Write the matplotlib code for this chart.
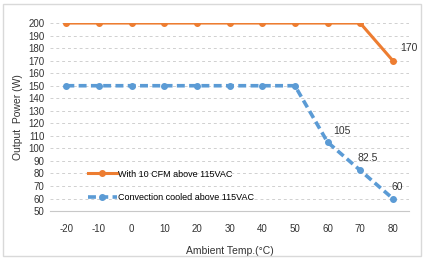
import matplotlib
matplotlib.use('Agg')
import matplotlib.pyplot as plt
from matplotlib.patches import Rectangle

temps = [-20, -10, 0, 10, 20, 30, 40, 50, 60, 70, 80]
fan_cooled = [200, 200, 200, 200, 200, 200, 200, 200, 200, 200, 170]
convection = [150, 150, 150, 150, 150, 150, 150, 150, 105, 82.5, 60]
yticks = list(range(50, 201, 10))

plt.rcParams['font.family'] = ['Liberation Sans Narrow', 'Liberation Sans', 'DejaVu Sans']
plt.rcParams['axes.unicode_minus'] = False

fig = plt.figure(figsize=(4.24, 2.59), dpi=100)
ax = fig.add_axes([0.118, 0.185, 0.847, 0.726])

orange = '#ED7D31'
blue = '#5B9BD5'

ax.plot(temps, fan_cooled, color=orange, lw=2.2, marker='o', ms=4,
        label='With 10 CFM above 115VAC')
ax.plot(temps, convection, color=blue, lw=2.6, ls=(0, (2.2, 1.2)), marker='o', ms=4,
        label='Convection cooled above 115VAC')

ax.annotate('170', (temps[-1], fan_cooled[-1]), xytext=(5, 7), textcoords='offset points',
            fontsize=7.5, color='#333333')
ax.annotate('105', (temps[8], convection[8]), xytext=(4, 6), textcoords='offset points',
            fontsize=7.5, color='#333333')
ax.annotate('82.5', (temps[9], convection[9]), xytext=(-2, 7), textcoords='offset points',
            fontsize=7.5, color='#333333')
ax.annotate('60', (temps[10], convection[10]), xytext=(-1, 6), textcoords='offset points',
            fontsize=7.5, color='#333333')

ax.set_xlim(-25, 85)
ax.set_ylim(50, 200)
ax.set_xticks(temps)
ax.set_yticks(yticks)
ax.tick_params(length=0, labelsize=7, colors='#333333', pad=4)
ax.tick_params(axis='x', pad=9)
ax.grid(axis='y', color='#d0d0d0', ls=(0, (3, 3)), lw=0.7)
ax.set_axisbelow(True)
for s in ['top', 'right', 'left']:
    ax.spines[s].set_visible(False)
ax.spines['bottom'].set_color('#c8c8c8')

ax.set_xlabel('Ambient Temp.(°C)', fontsize=7.5, color='#333333', labelpad=9)
ax.set_ylabel('Output  Power (W)', fontsize=7.5, color='#333333', labelpad=4)

ax.legend(loc='lower left', bbox_to_anchor=(0.085, 0.01), frameon=False, fontsize=6.5,
          handlelength=3.2, handletextpad=0.2, labelspacing=1.6, borderpad=0.3)

fig.patches.append(Rectangle((0.007, 0.01), 0.986, 0.975, transform=fig.transFigure,
                             fill=False, edgecolor='#d9d9d9', lw=1))

fig.savefig('out.png', dpi=100)
